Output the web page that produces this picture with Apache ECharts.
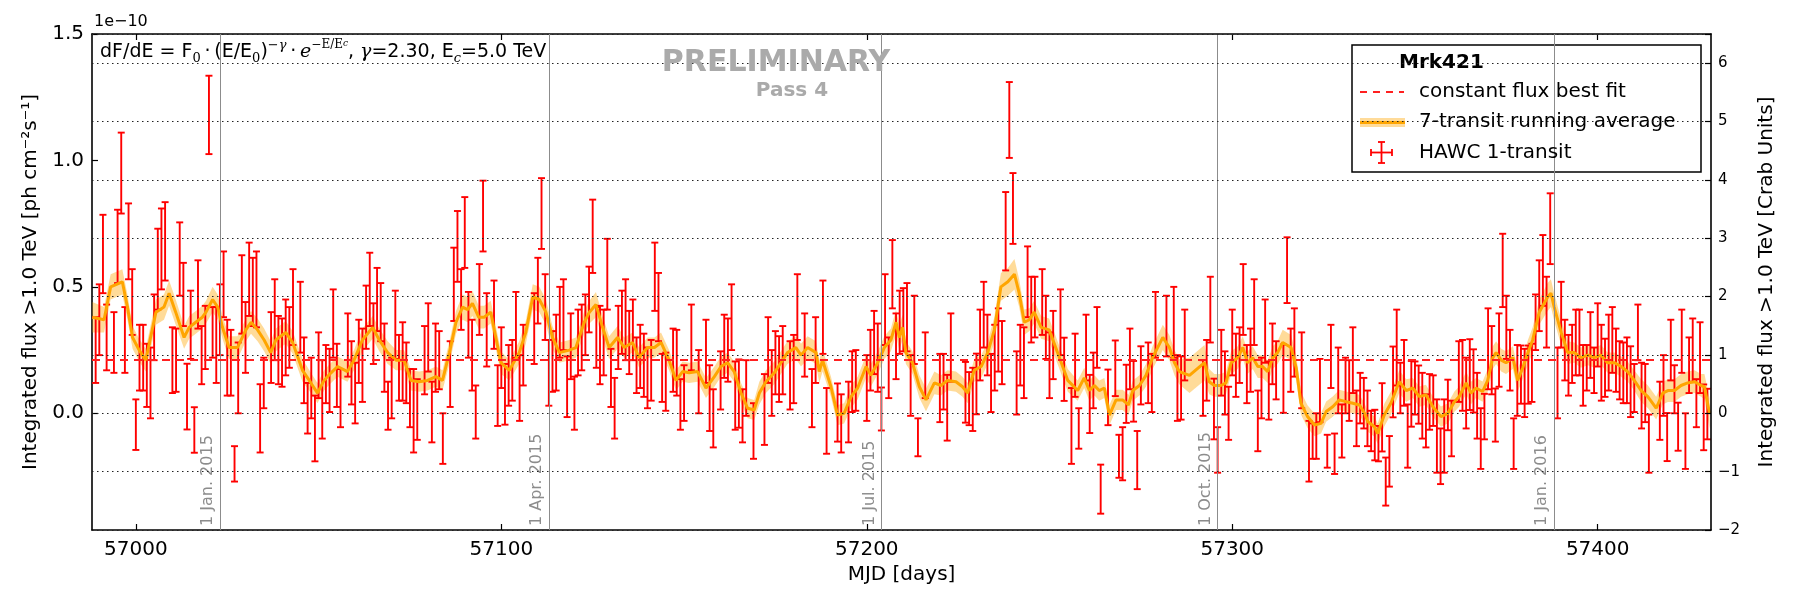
<!DOCTYPE html>
<html><head><meta charset="utf-8">
<script src="https://cdn.jsdelivr.net/npm/echarts@6/dist/echarts.min.js"></script>
<style>html,body{margin:0;padding:0;background:#fff}#c{width:1800px;height:600px}</style>
</head><body><div id="c"></div>
<script>
// ---- HAWC 1-transit points (MJD, flux [1e-10 ph cm^-2 s^-1], 1-sigma error) ----
const mjd = [
56989,56990,56991,56992,56994,56995,56996,56997,56998,56999,57000,57001,57002,57003,57004,57005,57006,57007,57008,57010,
57011,57012,57013,57014,57015,57016,57017,57018,57019,57020,57021,57022,57023,57024,57025,57026,57027,57028,57029,57030,
57031,57032,57033,57034,57035,57037,57038,57039,57040,57041,
57042,57043,57045,57046,57047,57048,57049,57050,57051,57052,57053,57054,57055,57056,57058,57059,57060,57061,57062,57063,
57064,57065,57066,57067,57068,57069,57070,57071,57072,57073,57074,57075,57076,57077,57079,57080,57081,57082,57083,57084,
57086,57087,57088,57089,57090,57091,57092,57093,57094,
57095,57096,57098,57099,57100,57101,57102,57103,57104,57105,57106,57109,57110,57111,57112,57113,57114,57115,57116,57117,
57118,57119,57120,57121,57122,57123,57124,57125,57126,57127,57128,57129,57130,57131,57132,57133,57134,57135,57136,57137,
57138,57139,57140,57141,57142,57143,57144,57145,
57147,57148,57149,57150,57152,57154,57156,57157,57158,57160,57161,57162,57163,57164,57165,57166,57167,57169,57172,57173,
57174,57175,57176,57177,57179,57180,57181,57183,57185,57186,57188,57189,57192,
57193,57195,57196,57197,57200,57201,57202,57203,57204,57205,57206,57207,57208,57209,57210,57211,57212,57213,57214,57216,
57220,57221,57222,57223,57227,57228,57229,57230,57231,57232,57233,57234,57235,57236,57237,57238,57239,57240,
57241,57242,57243,57244,57245,57246,57248,57249,57250,57251,57253,57254,57256,57257,57258,57260,57261,57262,57263,57264,
57266,57268,57269,57270,57271,57272,57273,57274,57275,57277,57278,57279,57282,57284,57285,57286,57287,
57292,57293,57294,57295,57296,57297,57298,57299,57300,57301,57302,57303,57304,57305,57306,57307,57308,57309,57310,57311,
57312,57314,57315,57316,57317,57319,57321,57322,57323,57324,57326,57327,57328,57329,57330,57331,57332,57333,57334,57335,57336,
57337,57338,57339,57340,57341,57342,57343,57344,57345,57346,57347,57348,57349,57350,57351,57352,57353,57354,57355,57356,
57357,57358,57359,57360,57362,57363,57364,57365,57366,57367,57368,57369,57370,57371,57372,57373,57374,57375,57376,57377,
57378,57379,57380,57381,57382,
57383,57384,57385,57386,57387,57389,57390,57391,57392,57393,57394,57395,57396,57397,57398,57399,57400,57401,57402,57403,
57404,57405,57406,57407,57408,57409,57410,57411,57412,57413,57414,57417,57418,57419,57420,57421,57422,57423,57424,57425,
57426,57427,57428,57429,57430
];
const flux = [
.25,.37,.63,.30,.28,.66,.95,.29,.68,.44,-.045,.22,.22,.15,.12,.34,.57,.65,.68,.21,
.21,.61,.47,.066,.35,-.066,.47,.23,.30,1.18,.32,.27,.37,.51,.22,.20,-.20,.14,.47,.30,
.53,.48,.49,-.02,.12,.26,.37,.25,.24,.30,
.30,.42,.38,.17,.02,.10,-.06,.19,.055,.155,.13,.355,.15,.06,.27,.16,.08,.245,.19,.38,
.49,.315,.45,.40,.22,.03,.10,.35,.18,.205,.16,.06,.01,.015,.21,.30,.005,.22,.21,-.10,
.155,.51,.66,.45,.715,.35,.23,.005,.45,
.78,.33,.39,.07,.22,.075,.15,.17,.35,.10,.23,.335,.485,.79,.42,.16,.205,.24,.36,.39,
.105,.265,.04,.28,.30,.35,.45,.70,.30,.27,.28,.55,.14,.02,.30,.36,.37,.28,.33,.19,
.225,.19,.14,.17,.54,.42,.14,.125,
.21,.20,.035,.08,.30,.125,.245,.06,-.02,.13,.265,.25,.38,.07,.078,-.01,.10,-.07,.015,.25,
.12,.20,.175,.21,.15,.175,.42,.27,.06,.25,.38,-.03,.003,
-.04,.005,.125,.13,.10,.21,.28,.22,.017,.41,.18,.55,.265,.36,.37,.38,.11,.33,-.095,.19,
.10,.125,.022,.26,.083,.058,.055,.116,.27,.39,.27,.12,.22,.29,.24,.72,1.16,.81,
.12,.23,.20,.52,.41,.42,.44,.34,.19,.27,.36,.174,-.05,.19,-.06,.26,.037,.13,.30,-.30,
.063,.178,-.17,-.16,.077,.215,.087,-.185,.15,.16,.12,.35,.345,.36,.10,.10,.27,
.10,.17,.41,.017,-.145,.20,.12,.0,.28,.19,.23,.45,.155,.21,.40,-.03,.10,.325,.09,.235,
.17,.137,.566,.21,.28,.17,-.15,-.11,-.09,.09,-.15,.225,-.16,.13,-.07,.11,.09,.21,-.02,.06,.04,
-.02,-.07,-.086,-.12,-.016,-.27,-.19,.124,.26,.10,.16,-.09,.077,.10,.074,.03,-.03,.045,.05,-.09,
-.17,-.09,.033,-.06,.165,.15,.08,.153,.128,.03,-.10,-.013,.255,.21,-.007,.25,.565,.34,.21,-.12,
.13,.153,.12,.153,.16,
.36,.465,.565,.40,.73,.12,.39,.25,.19,.235,.28,.28,.15,.18,.27,.17,.31,.20,.18,.24,
.29,.21,.17,.16,.17,.125,.10,.32,.07,.08,-.12,.01,.11,-.094,.25,.095,-.053,.285,-.11,.19,
.25,.04,.22,-.016,-.003
];
const fluxErr = [
.13,.14,.155,.13,.12,.145,.16,.13,.15,.13,.10,.13,.13,.125,.14,.13,.16,.16,.155,.13,
.125,.145,.125,.13,.135,.09,.135,.115,.125,.155,.10,.15,.14,.13,.15,.13,.07,.14,.155,.14,
.145,.135,.15,.135,.10,.14,.16,.135,.135,.15,
.12,.15,.14,.13,.10,.12,.13,.13,.155,.115,.125,.135,.125,.115,.125,.125,.12,.125,.145,.125,
.145,.12,.125,.115,.135,.095,.12,.135,.13,.155,.12,.115,.165,.12,.135,.135,.12,.135,.115,.10,
.13,.145,.14,.12,.14,.13,.14,.105,.14,
.14,.145,.135,.12,.12,.12,.12,.12,.13,.13,.12,.14,.13,.14,.13,.13,.12,.15,.14,.14,
.12,.13,.105,.13,.13,.12,.13,.145,.12,.155,.13,.14,.115,.12,.125,.125,.16,.125,.12,.11,
.125,.125,.12,.12,.135,.135,.095,.115,
.125,.13,.10,.11,.13,.125,.125,.13,.115,.115,.125,.125,.13,.135,.135,.105,.11,.11,.14,.13,
.13,.125,.13,.135,.135,.135,.13,.125,.115,.13,.145,.13,.115,
.115,.12,.12,.12,.13,.12,.125,.135,.085,.14,.12,.135,.13,.125,.125,.135,.12,.135,.075,.13,
.135,.11,.13,.135,.12,.105,.125,.12,.14,.13,.12,.115,.13,.125,.125,.155,.15,.14,
.125,.12,.14,.14,.13,.12,.13,.125,.13,.135,.13,.125,.15,.125,.08,.13,.115,.11,.12,.097,
.11,.11,.085,.105,.115,.12,.12,.115,.115,.12,.115,.13,.12,.14,.13,.125,.14,
.11,.12,.13,.12,.09,.13,.125,.105,.13,.125,.11,.14,.115,.125,.13,.12,.12,.125,.115,.12,
.115,.135,.13,.125,.135,.15,.12,.07,.09,.125,.065,.125,.08,.13,.105,.11,.12,.13,.11,.10,.10,
.11,.08,.10,.07,.135,.095,.10,.14,.15,.10,.13,.125,.13,.105,.115,.13,.105,.11,.10,.145,
.11,.145,.10,.11,.12,.14,.14,.14,.125,.13,.12,.09,.16,.135,.105,.145,.145,.125,.12,.10,
.14,.115,.135,.115,.115,
.11,.14,.14,.14,.14,.14,.13,.12,.12,.115,.13,.13,.12,.09,.13,.09,.125,.15,.115,.15,
.13,.125,.115,.12,.13,.14,.095,.11,.13,.115,.115,.115,.12,.095,.12,.095,.095,.125,.11,.11,
.125,.095,.14,.13,.10
];

// ---- 7-transit running average ----
const avgMjd = [
56988.1,56991.3,56993.1,56996.3,56997.7,56999.1,57000.9,57002.7,57005.5,57007.7,
57009.1,57010.9,57013.2,57014.6,57016.4,57018.2,57019.2,57021.0,57022.4,57023.7,
57025.5,57027.8,57030.1,57031.5,57033.3,57035.1,57036.9,57038.3,57041.0,57042.9,
57045.6,57047.9,57049.7,57051.5,57053.4,57055.2,57057.9,57059.7,57062.0,57064.8,
57066.6,57068.9,57071.2,57073.4,57075.3,57077.5,57079.8,57082.1,57083.9,57085.8,
57087.6,57089.4,57090.8,57092.1,57093.8,57095.3,57097.1,57098.5,57099.9,57102.2,
57104.9,57106.7,57108.6,57110.4,57112.2,57114.0,57115.9,57118.6,57120.4,57122.7,
57124.1,57125.9,57127.7,57129.5,57131.8,57133.6,57135.9,57137.7,57140.0,57141.9,
57143.7,57145.9,57147.8,57149.6,57151.4,57153.7,57156.0,57158.3,57160.1,57161.9,
57163.7,57165.6,57167.4,57169.2,57170.6,57172.4,57174.7,57176.5,57178.3,57180.6,
57182.0,57183.8,57186.1,57187.0,57187.9,57190.2,57192.0,57193.8,57195.7,57197.5,
57199.8,57201.1,57203.0,57204.8,57206.6,57208.0,57208.9,57209.8,57210.7,57212.5,
57214.4,57216.2,57218.5,57220.3,57222.1,57224.4,57226.2,57227.6,57229.4,57231.3,
57233.1,57234.9,57236.7,57238.6,57240.4,57241.7,57243.1,57244.5,57245.8,57247.7,
57249.9,57252.2,57255.0,57257.7,57259.5,57260.9,57262.3,57263.6,57265.0,57266.4,
57268.2,57270.0,57271.6,57272.8,57274.6,57276.4,57278.2,57281.0,57282.8,57284.2,
57285.5,57288.3,57292.4,57293.7,57295.1,57296.9,57298.3,57299.7,57301.5,57302.9,
57304.2,57305.6,57307.0,57308.3,57309.7,57311.1,57312.4,57313.8,57316.1,57317.5,
57318.8,57320.6,57322.5,57324.3,57325.7,57327.5,57329.3,57331.1,57333.0,57334.8,
57336.2,57337.1,57338.9,57339.8,57341.6,57343.4,57345.7,57347.6,57349.4,57351.2,
57353.0,57354.9,57357.1,57359.0,57360.8,57362.1,57364.0,57365.3,57366.7,57368.5,
57369.9,57371.3,57372.2,57373.6,57374.9,57376.8,57378.1,57379.5,57380.9,57382.2,
57384.0,57386.3,57387.2,57388.1,57390.0,57391.8,57393.6,57395.4,57397.3,57399.1,
57400.9,57402.7,57404.6,57406.4,57408.2,57410.0,57411.9,57413.7,57416.0,57417.8,
57419.2,57421.0,57422.8,57424.6,57426.5,57428.3,57429.2,57430.6
];
const avgFlux = [
.38,.37,.50,.52,.42,.30,.25,.21,.40,.42,
.475,.40,.30,.34,.36,.38,.40,.45,.42,.34,
.26,.26,.33,.36,.33,.29,.24,.29,.32,.28,
.17,.12,.08,.13,.16,.185,.165,.21,.29,.34,
.29,.24,.21,.21,.13,.125,.13,.145,.13,.24,
.36,.42,.41,.435,.38,.38,.40,.30,.20,.17,
.24,.32,.46,.45,.40,.30,.24,.25,.26,.36,
.40,.43,.34,.26,.30,.26,.28,.22,.26,.26,
.28,.21,.13,.165,.16,.165,.10,.145,.185,.20,
.165,.08,.02,.013,.08,.125,.16,.20,.24,.26,
.23,.26,.24,.165,.21,.105,-.007,0,.066,.10,
.185,.15,.20,.26,.29,.36,.30,.34,.24,.20,
.105,.053,.12,.11,.13,.125,.105,.08,.17,.185,
.24,.33,.50,.52,.55,.475,.36,.37,.40,.34,
.33,.24,.13,.09,.14,.09,.11,.09,.10,-.007,
.053,.053,.033,.09,.11,.15,.22,.30,.26,.20,
.165,.15,.20,.125,.11,.11,.12,.20,.22,.26,
.20,.22,.185,.185,.165,.22,.24,.28,.26,.18,
.04,-.013,-.046,-.04,.007,.026,.053,.046,.04,.033,
0,-.033,-.053,-.08,-.007,.04,.125,.09,.10,.066,
.073,.026,-.013,0,.046,.066,.12,.08,.10,.086,
.13,.22,.24,.21,.20,.22,.13,.18,.24,.29,
.40,.46,.475,.42,.32,.24,.24,.22,.23,.22,
.23,.20,.20,.185,.165,.13,.09,.066,.02,.08,
.09,.09,.11,.12,.125,.11,.105,0
];
const avgErr = [
.06,.05,.05,.05,.05,.045,.045,.045,.05,.05,
.05,.05,.045,.045,.045,.045,.045,.05,.05,.045,
.045,.045,.045,.045,.045,.045,.045,.045,.045,.045,
.045,.04,.04,.04,.04,.04,.04,.04,.045,.045,
.045,.045,.04,.04,.04,.04,.04,.04,.04,.045,
.045,.05,.05,.05,.045,.045,.045,.045,.045,.04,
.045,.045,.05,.05,.05,.045,.04,.04,.04,.045,
.045,.05,.045,.045,.045,.04,.04,.04,.04,.04,
.04,.04,.04,.04,.04,.04,.04,.04,.04,.04,
.04,.04,.04,.04,.045,.045,.045,.045,.045,.045,
.045,.045,.045,.045,.045,.04,.04,.04,.045,.045,
.045,.045,.045,.045,.045,.05,.05,.05,.045,.045,
.045,.045,.045,.04,.04,.04,.04,.04,.045,.045,
.045,.05,.055,.055,.06,.055,.05,.045,.045,.045,
.045,.045,.045,.04,.04,.04,.04,.04,.04,.04,
.04,.04,.04,.04,.04,.045,.045,.05,.05,.05,
.05,.07,.07,.05,.045,.045,.045,.045,.045,.045,
.045,.045,.045,.045,.045,.045,.045,.05,.05,.05,
.045,.045,.045,.04,.04,.04,.04,.04,.04,.04,
.04,.04,.04,.04,.045,.045,.045,.045,.04,.04,
.04,.04,.04,.04,.04,.04,.045,.045,.04,.04,
.045,.045,.045,.045,.045,.045,.045,.045,.05,.05,
.05,.055,.055,.055,.05,.045,.04,.04,.04,.04,
.04,.04,.04,.04,.04,.04,.045,.045,.045,.045,
.045,.045,.045,.045,.045,.045,.05,.06
];

const constFit = 0.213;
const dateLineMjd = [57023, 57113, 57204, 57296, 57388];
const dateLineText = ['1 Jan. 2015', '1 Apr. 2015', '1 Jul. 2015', '1 Oct. 2015', '1 Jan. 2016'];
const xTicks = [57000, 57100, 57200, 57300, 57400];
const fluxTicks = [0, 0.5, 1.0, 1.5];
const xRange = [56988, 57431];
const crabRange = [-2, 6.5];
const crabToFlux = 1.5 / 6.5;

const chart = echarts.init(document.getElementById('c'), null, {renderer: 'canvas'});
const FONT = 'DejaVu Sans';

function renderErr(params, api) {
  const x = api.value(0), lo = api.value(1), hi = api.value(2);
  const p0 = api.coord([x, lo]), p1 = api.coord([x, hi]);
  const cw = 3.5;
  const st = {stroke: '#ff0000', lineWidth: 1.9};
  return {type: 'group', children: [
    {type: 'line', shape: {x1: p0[0], y1: p0[1], x2: p1[0], y2: p1[1]}, style: st},
    {type: 'line', shape: {x1: p0[0] - cw, y1: p0[1], x2: p0[0] + cw, y2: p0[1]}, style: st},
    {type: 'line', shape: {x1: p1[0] - cw, y1: p1[1], x2: p1[0] + cw, y2: p1[1]}, style: st}
  ]};
}
function renderBand(params, api) {
  if (params.dataIndex !== 0) return null;
  const up = [], dn = [];
  for (let i = 0; i < avgMjd.length; i++) {
    up.push(api.coord([avgMjd[i], avgFlux[i] + avgErr[i]]));
    dn.push(api.coord([avgMjd[i], avgFlux[i] - avgErr[i]]));
  }
  return {type: 'polygon', shape: {points: up.concat(dn.reverse())}, style: {fill: 'rgba(255,165,0,0.4)'}};
}

const errData = mjd.map((m, i) => [m, flux[i] - fluxErr[i], flux[i] + fluxErr[i]]);
const avgData = avgMjd.map((m, i) => [m, avgFlux[i]]);

const dateMarks = dateLineMjd.map((m, i) => ({
  xAxis: m,
  label: {show: true, formatter: dateLineText[i], position: 'insideStartTop', color: '#8c8c8c', fontSize: 16, fontFamily: FONT, distance: 4}
}));

const legendX = 1352, legendY = 45;
const TS = '\u2009';

const option = {
  animation: false,
  backgroundColor: '#ffffff',
  textStyle: {fontFamily: FONT},
  grid: {left: 92, right: 89, top: 34, bottom: 70, containLabel: false},
  xAxis: [
    {type: 'value', min: xRange[0], max: xRange[1], position: 'bottom',
     axisLine: {show: true, onZero: false, lineStyle: {color: '#000', width: 1.6}},
     axisTick: {show: true, inside: true, length: 6, customValues: xTicks, lineStyle: {color: '#000', width: 1.2}},
     axisLabel: {show: true, customValues: xTicks, fontSize: 20, color: '#000', margin: 10, fontFamily: FONT, formatter: v => String(v)},
     splitLine: {show: false},
     name: 'MJD [days]', nameLocation: 'middle', nameGap: 31, nameTextStyle: {fontSize: 20, color: '#000', fontFamily: FONT}},
    {type: 'value', min: xRange[0], max: xRange[1], position: 'top',
     axisLine: {show: true, onZero: false, lineStyle: {color: '#000', width: 1.6}},
     axisTick: {show: true, inside: true, length: 6, customValues: xTicks, lineStyle: {color: '#000', width: 1.2}},
     axisLabel: {show: false}, splitLine: {show: false}}
  ],
  yAxis: [
    {type: 'value', min: crabRange[0] * crabToFlux, max: crabRange[1] * crabToFlux, position: 'left',
     axisLine: {show: true, onZero: false, lineStyle: {color: '#000', width: 1.6}},
     axisTick: {show: true, inside: true, length: 6, customValues: fluxTicks, lineStyle: {color: '#000', width: 1.2}},
     axisLabel: {show: true, customValues: fluxTicks, fontSize: 20, color: '#000', margin: 8, fontFamily: FONT, formatter: v => Number(v).toFixed(1)},
     splitLine: {show: false},
     name: 'Integrated flux >1.0 TeV [ph cm\u207B\u00B2s\u207B\u00B9]', nameLocation: 'middle', nameGap: 50, nameRotate: 90,
     nameTextStyle: {fontSize: 20, color: '#000', fontFamily: FONT}},
    {type: 'value', min: crabRange[0], max: crabRange[1], interval: 1, position: 'right', z: 10,
     axisLine: {show: true, onZero: false, lineStyle: {color: '#000', width: 1.6}},
     axisTick: {show: true, inside: true, length: 6, lineStyle: {color: '#000', width: 1.2}},
     axisLabel: {show: true, fontSize: 15, color: '#000', margin: 7, fontFamily: FONT,
       formatter: v => (Math.abs(v - Math.round(v)) > 1e-6 ? '' : (v < 0 ? '\u2212' + Math.abs(v) : String(v)))},
     splitLine: {show: true, lineStyle: {color: '#222', width: 1, type: [1.5, 3.5]}},
     name: 'Integrated flux >1.0 TeV [Crab Units]', nameLocation: 'middle', nameGap: 46, nameRotate: 90,
     nameTextStyle: {fontSize: 20, color: '#000', fontFamily: FONT}}
  ],
  series: [
    {type: 'custom', name: 'band', xAxisIndex: 0, yAxisIndex: 0, z: 1, silent: true,
     data: [avgData[0]], renderItem: renderBand, clip: true,
     markLine: {silent: true, symbol: ['none', 'none'], lineStyle: {color: '#8c8c8c', width: 1, type: 'solid'}, data: dateMarks}},
    {type: 'custom', name: 'HAWC 1-transit', xAxisIndex: 0, yAxisIndex: 0, z: 2, silent: true,
     data: errData, encode: {x: 0, y: [1, 2]}, renderItem: renderErr,
     markLine: {silent: true, symbol: ['none', 'none'], label: {show: false},
       lineStyle: {color: '#ff2020', width: 1.8, type: [8, 6]}, data: [{yAxis: constFit}]}},
    {type: 'line', name: '7-transit running average', xAxisIndex: 0, yAxisIndex: 0, z: 3, silent: true,
     data: avgData, showSymbol: false, symbol: 'none', lineStyle: {color: '#ffa500', width: 3}}
  ],
  graphic: [
    {type: 'text', x: 94, y: 30, z: 20, style: {text: '1e\u221210', fontSize: 16, fontFamily: FONT, fill: '#000', verticalAlign: 'bottom'}},
    {type: 'text', x: 100, y: 52, z: 20, style: {
      text: '{n|dF/dE = F}{b|0}{n|' + TS + '\u00B7' + TS + '(E/E}{b|0}{n|)}{p|\u2212\u03B3}{n|' + TS + '\u00B7' + TS + '}{e|e}{q|\u2212E/E}{qc|c}{n|, }{g|\u03B3}{n|=2.30, E}{bc|c}{n|=5.0 TeV}',
      verticalAlign: 'middle', fontFamily: FONT, fill: '#000',
      rich: {
        n: {fontSize: 19, fontFamily: FONT, lineHeight: 26, verticalAlign: 'middle', fill: '#000'},
        b: {fontSize: 13, fontFamily: 'DejaVu Serif', lineHeight: 16, verticalAlign: 'bottom', fill: '#000'},
        bc: {fontSize: 13, fontFamily: 'DejaVu Serif', fontStyle: 'italic', lineHeight: 16, verticalAlign: 'bottom', fill: '#000'},
        p: {fontSize: 13, fontFamily: 'DejaVu Serif', fontStyle: 'italic', lineHeight: 14, verticalAlign: 'top', fill: '#000'},
        q: {fontSize: 12, fontFamily: 'DejaVu Serif', lineHeight: 12, verticalAlign: 'top', fill: '#000'},
        qc: {fontSize: 9, fontFamily: 'DejaVu Serif', fontStyle: 'italic', lineHeight: 18, verticalAlign: 'top', fill: '#000'},
        e: {fontSize: 19, fontFamily: 'DejaVu Serif', fontStyle: 'italic', lineHeight: 26, verticalAlign: 'middle', fill: '#000'},
        g: {fontSize: 19, fontFamily: 'DejaVu Serif', fontStyle: 'italic', lineHeight: 26, verticalAlign: 'middle', fill: '#000'}
      }}},
    {type: 'text', x: 776, y: 63, z: 20, style: {text: 'PRELIMINARY', fontSize: 30, fontWeight: 'bold', fontFamily: FONT, fill: '#aaaaaa', align: 'center', verticalAlign: 'middle'}},
    {type: 'text', x: 792, y: 91, z: 20, style: {text: 'Pass 4', fontSize: 20, fontWeight: 'bold', fontFamily: FONT, fill: '#aaaaaa', align: 'center', verticalAlign: 'middle'}},
    // legend box
    {type: 'rect', z: 5, shape: {x: legendX, y: legendY, width: 349, height: 127}, style: {fill: '#ffffff', stroke: '#000', lineWidth: 1.5}},
    {type: 'text', z: 6, x: 1399, y: 63, style: {text: 'Mrk421', fontSize: 20, fontWeight: 'bold', fontFamily: FONT, fill: '#000', verticalAlign: 'middle'}},
    {type: 'line', z: 6, shape: {x1: 1360, y1: 92, x2: 1404, y2: 92}, style: {stroke: '#ff2020', lineWidth: 1.8, lineDash: [7, 6]}},
    {type: 'text', z: 6, x: 1419, y: 92, style: {text: 'constant flux best fit', fontSize: 20, fontFamily: FONT, fill: '#000', verticalAlign: 'middle'}},
    {type: 'rect', z: 6, shape: {x: 1360, y: 118, width: 45, height: 9}, style: {fill: 'rgba(255,165,0,0.4)'}},
    {type: 'line', z: 6, shape: {x1: 1360, y1: 122.5, x2: 1405, y2: 122.5}, style: {stroke: '#ffa500', lineWidth: 3}},
    {type: 'text', z: 6, x: 1419, y: 122, style: {text: '7-transit running average', fontSize: 20, fontFamily: FONT, fill: '#000', verticalAlign: 'middle'}},
    {type: 'line', z: 6, shape: {x1: 1381.5, y1: 142, x2: 1381.5, y2: 163}, style: {stroke: '#ff0000', lineWidth: 1.8}},
    {type: 'line', z: 6, shape: {x1: 1378, y1: 142, x2: 1385, y2: 142}, style: {stroke: '#ff0000', lineWidth: 1.8}},
    {type: 'line', z: 6, shape: {x1: 1378, y1: 163, x2: 1385, y2: 163}, style: {stroke: '#ff0000', lineWidth: 1.8}},
    {type: 'line', z: 6, shape: {x1: 1371, y1: 152.5, x2: 1392, y2: 152.5}, style: {stroke: '#ff0000', lineWidth: 1.8}},
    {type: 'line', z: 6, shape: {x1: 1371, y1: 149, x2: 1371, y2: 156}, style: {stroke: '#ff0000', lineWidth: 1.8}},
    {type: 'line', z: 6, shape: {x1: 1392, y1: 149, x2: 1392, y2: 156}, style: {stroke: '#ff0000', lineWidth: 1.8}},
    {type: 'text', z: 6, x: 1419, y: 153, style: {text: 'HAWC 1-transit', fontSize: 20, fontFamily: FONT, fill: '#000', verticalAlign: 'middle'}}
  ]
};
chart.setOption(option);
</script></body></html>
